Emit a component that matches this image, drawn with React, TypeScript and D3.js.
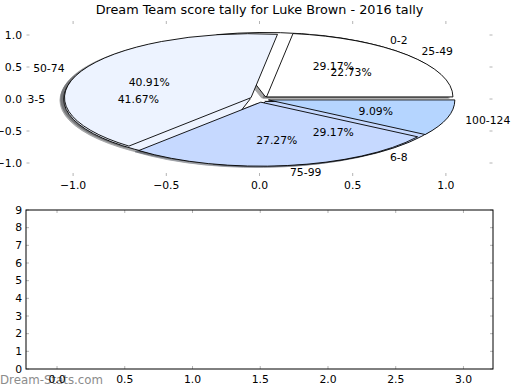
import * as d3 from "d3";

// data
const ringA = ["0-2", "3-5", "6-8"];
const ringAValues = [7, 10, 7];
const ringB = ["25-49", "50-74", "75-99", "100-124"];
const ringBValues = [5, 9, 6, 2];
const wedgeColors = ["#ffffff", "#edf3ff", "#c6d9ff", "#b5d5ff"];
const pieTicksX = [-1.0, -0.5, 0.0, 0.5, 1.0];
const pieTicksY = [-1.0, -0.5, 0.0, 0.5, 1.0];
const lowerTicksX = [0.0, 0.5, 1.0, 1.5, 2.0, 2.5, 3.0];
const lowerTicksY = [0, 1, 2, 3, 4, 5, 6, 7, 8, 9];

const W = 520;
const H = 390;
const FONT = "'DejaVu Sans', sans-serif";
const EXPLODE = 0.05;
const TICK = "#b4b4b4";
const FS = 10.8;

const fmtTick = (v: number) => d3.format(".1f")(v).replace("-", "\u2212");

export default function App() {
  // pie axes (no frame)
  const top = { l: 26.5, r: 492.5, t: 21, b: 176 };
  const x = d3.scaleLinear().domain([-1.25, 1.25]).range([top.l, top.r]);
  const y = d3.scaleLinear().domain([-1.203, 1.219]).range([top.b, top.t]);
  const sx = x(1) - x(0);
  const sy = y(0) - y(1);

  // lower empty axes
  const bot = { l: 26, r: 493, t: 210, b: 369 };
  const x2 = d3.scaleLinear().domain([-0.229, 3.218]).range([bot.l, bot.r]);
  const y2 = d3.scaleLinear().domain([0, 9]).range([bot.b, bot.t]);

  const pie = d3
    .pie<number>()
    .sort(null)
    .startAngle(Math.PI / 2)
    .endAngle(Math.PI / 2 - 2 * Math.PI);
  const arc = d3.arc<d3.PieArcDatum<number>>().innerRadius(0).outerRadius(1);

  const rings = [
    { labels: ringA, arcs: pie(ringAValues) },
    { labels: ringB, arcs: pie(ringBValues) },
  ];

  // explode offset along the wedge's middle angle
  const offset = (a: d3.PieArcDatum<number>) => {
    const m = (a.startAngle + a.endAngle) / 2;
    return { m, dx: EXPLODE * Math.sin(m), dy: EXPLODE * Math.cos(m) };
  };

  return (
    <svg width={W} height={H} style={{ position: "fixed", left: 0, top: 0, background: "#fff" }} fontFamily={FONT}>
      <text x={259.5} y={14} textAnchor="middle" fontSize={12.8} fill="#000">
        Dream Team score tally for Luke Brown - 2016 tally
      </text>

      {/* pie axes ticks */}
      {pieTicksX.map((t) => (
        <g key={"px" + t}>
          <line x1={x(t)} x2={x(t)} y1={top.t} y2={top.t + 3} stroke={TICK} />
          <line x1={x(t)} x2={x(t)} y1={top.b} y2={top.b - 3} stroke={TICK} />
          <text x={x(t)} y={189} textAnchor="middle" fontSize={FS}>{fmtTick(t)}</text>
        </g>
      ))}
      {pieTicksY.map((t) => (
        <g key={"py" + t}>
          <line x1={top.l} x2={top.l + 3} y1={y(t)} y2={y(t)} stroke={TICK} />
          <line x1={top.r} x2={top.r - 3} y1={y(t)} y2={y(t)} stroke={TICK} />
          <text x={22} y={y(t)} dy="0.35em" textAnchor="end" fontSize={FS}>{fmtTick(t)}</text>
        </g>
      ))}

      <g transform={`translate(${x(0)},${y(0)}) scale(${sx},${sy})`}>
        {/* shadows first */}
        {rings.map((ring, ri) =>
          ring.arcs.map((a, i) => {
            const o = offset(a);
            const c = d3.rgb(wedgeColors[i]);
            const dark = d3.rgb(c.r * 0.3, c.g * 0.3, c.b * 0.3).toString();
            return (
              <path
                key={`s${ri}-${i}`}
                d={arc(a) || ""}
                transform={`translate(${o.dx - 0.02},${-o.dy + 0.02})`}
                fill={dark}
                stroke={dark}
                strokeWidth={0.9}
                opacity={0.5}
                style={{ vectorEffect: "non-scaling-stroke" } as any}
              />
            );
          })
        )}
        {rings.map((ring, ri) =>
          ring.arcs.map((a, i) => {
            const o = offset(a);
            return (
              <path
                key={`w${ri}-${i}`}
                d={arc(a) || ""}
                transform={`translate(${o.dx},${-o.dy})`}
                fill={wedgeColors[i]}
                stroke="#000"
                strokeWidth={0.9}
                style={{ vectorEffect: "non-scaling-stroke" } as any}
              />
            );
          })
        )}
      </g>

      {/* labels and percentages */}
      {rings.map((ring, ri) => {
        const sum = d3.sum(ring.arcs, (a) => a.value);
        return ring.arcs.map((a, i) => {
          const o = offset(a);
          const lx = o.dx + 1.1 * Math.sin(o.m);
          const ly = o.dy + 1.1 * Math.cos(o.m);
          const px = o.dx + 0.6 * Math.sin(o.m);
          const py = o.dy + 0.6 * Math.cos(o.m);
          return (
            <g key={`t${ri}-${i}`} fontSize={FS} fill="#000">
              <text x={x(lx)} y={y(ly)} dy="0.35em" textAnchor={lx > 0 ? "start" : "end"}>
                {ring.labels[i]}
              </text>
              <text x={x(px)} y={y(py)} dy="0.35em" textAnchor="middle">
                {d3.format(".2f")((a.value / sum) * 100)}%
              </text>
            </g>
          );
        });
      })}

      {/* lower axes */}
      {lowerTicksX.map((t) => (
        <g key={"bx" + t}>
          <line x1={x2(t)} x2={x2(t)} y1={bot.t} y2={bot.t + 3} stroke={TICK} />
          <line x1={x2(t)} x2={x2(t)} y1={bot.b} y2={bot.b - 3} stroke={TICK} />
        </g>
      ))}
      {lowerTicksY.map((t) => (
        <g key={"by" + t}>
          <line x1={bot.l} x2={bot.l + 3} y1={y2(t)} y2={y2(t)} stroke={TICK} />
          <line x1={bot.r} x2={bot.r - 3} y1={y2(t)} y2={y2(t)} stroke={TICK} />
          <text x={22} y={y2(t)} dy="0.35em" textAnchor="end" fontSize={FS}>{t}</text>
        </g>
      ))}
      <rect x={bot.l} y={bot.t} width={bot.r - bot.l} height={bot.b - bot.t} fill="none" stroke="#000" strokeWidth={1} />

      <text x={0} y={384} fontSize={11.8} fill="#8c8c8c">Dream-Stats.com</text>

      {lowerTicksX.map((t) => (
        <text key={"bl" + t} x={x2(t)} y={383} textAnchor="middle" fontSize={FS}>{t.toFixed(1)}</text>
      ))}
    </svg>
  );
}
